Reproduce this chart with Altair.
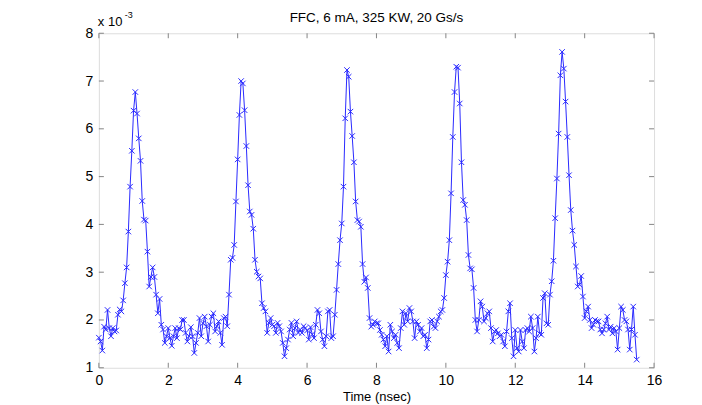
import altair as alt
import pandas as pd

TITLE = "FFC, 6 mA, 325 KW, 20 Gs/s"
X_LABEL = "Time (nsec)"
EXP_BASE = "x 10"
EXP_POWER = "-3"
SAMPLE_NS = 0.05  # 20 Gs/s
X_TICKS = [0, 2, 4, 6, 8, 10, 12, 14, 16]
Y_TICKS = [1, 2, 3, 4, 5, 6, 7, 8]

# signal values (x 10^-3), one per 0.05 ns sample
seg1 = [1.63, 1.55, 1.36, 1.86, 1.80, 2.21, 1.83, 1.66, 1.83, 1.76,
        1.78, 2.11, 2.22, 2.18, 2.41, 2.77, 3.10, 3.85, 4.79, 5.54,
        6.38, 6.77, 6.32, 5.80, 5.33, 4.49, 4.10, 4.08, 3.43, 2.70,
        2.90, 3.10, 2.90, 2.53, 2.14, 2.44, 1.90, 1.80, 1.52, 1.66,
        1.83, 1.62, 1.46, 1.66, 1.83, 1.62, 1.83, 1.80, 2.00, 2.00,
        1.73, 1.55, 1.66, 1.85, 1.66, 1.31, 1.52, 1.73, 2.04, 1.66,
        1.93]
seg2 = [2.07, 1.87, 1.55, 1.90, 2.07, 2.14, 1.76, 1.87, 1.97, 1.73,
        1.48, 2.04, 2.07, 1.87, 2.53, 3.26, 3.30, 3.57, 4.48, 5.36,
        6.29, 7.00, 6.95, 6.39, 5.64, 4.82, 4.27, 4.20, 3.91, 3.26,
        3.01, 2.91, 2.87, 2.35, 2.25, 2.18]
seg3 = [1.73, 1.94, 2.04, 1.90, 1.87, 1.73, 1.94, 1.87, 1.76, 1.52,
        1.24, 1.41, 1.59, 1.80, 1.94, 1.66, 1.83, 1.97, 1.73, 1.80,
        1.73, 1.87, 1.83, 1.78, 1.59, 1.85, 1.70]
seg4 = [1.62, 1.90, 2.21, 2.14, 1.76, 1.59, 1.45, 1.66, 2.18, 2.21,
        1.62, 1.66, 2.11, 2.63, 3.17, 3.67, 4.02, 4.79, 6.22, 7.23,
        7.09, 6.36, 5.85, 5.30, 4.48, 4.09, 4.06, 3.95, 3.17, 2.80,
        2.89, 2.67, 2.04]
seg5 = [1.86, 1.90, 1.97, 1.93, 1.93, 1.79, 1.69, 1.59, 1.45, 1.66,
        1.34, 1.90, 1.76, 1.62, 1.69, 1.52, 1.41, 1.83, 2.18, 1.90,
        2.14, 1.97, 2.25, 2.18, 1.97, 1.62, 1.97, 1.90, 1.76, 1.83,
        1.66, 1.69, 1.41]
seg6 = [1.59, 1.97, 2.00, 1.86, 1.83, 1.97, 2.07, 2.18, 2.21, 2.46,
        2.94, 3.22, 3.67, 4.65, 5.83, 6.77, 7.30, 7.28, 6.53, 5.30,
        4.51, 4.41, 4.09, 3.36, 3.08, 3.06, 2.67, 2.00]
seg7 = [1.76, 2.00, 2.39, 2.28, 1.97, 2.04, 2.14, 2.18, 1.83, 1.55,
        1.76, 1.79, 1.72, 1.66, 1.69, 1.55, 1.45, 1.76, 2.18, 2.35,
        1.62, 1.24, 1.79, 1.41, 1.34, 1.79, 1.55, 1.41, 1.79, 1.83,
        1.76, 2.07, 1.83]
seg8 = [1.34, 1.62, 2.07, 1.72, 1.69, 2.46, 2.56, 1.93, 1.90, 2.53,
        2.81, 3.24, 4.13, 4.96, 5.90, 7.12, 7.61, 7.26, 6.57, 5.83,
        5.03, 4.30, 3.87, 3.57, 3.12, 2.70, 2.74, 2.92, 2.49, 2.04]
seg9 = [2.18, 2.28, 2.00, 1.83, 1.90, 2.00, 1.97, 1.97, 1.80, 1.72,
        1.80, 1.93, 2.07, 1.80, 1.86, 1.72, 1.83, 1.76, 1.38, 1.83,
        2.28, 2.21, 2.00, 1.97, 1.80, 1.38, 1.80, 2.28, 1.69, 1.17]

values = seg1 + seg2 + seg3 + seg4 + seg5 + seg6 + seg7 + seg8 + seg9
times = [round(i * SAMPLE_NS, 3) for i in range(len(values))]
df = pd.DataFrame({"t": times, "v": values})

W, H = 556, 335
BLUE = "#2a2aff"
GRAY = "#858585"
FONT = "Liberation Sans"

xs = alt.Scale(domain=[0, 16], nice=False, zero=False)
ys = alt.Scale(domain=[1, 8], nice=False, zero=False)
X_AXIS = alt.Axis(values=X_TICKS, title=X_LABEL, grid=False, domain=False,
                  ticks=False, tickSize=0, labelPadding=6, labelFontSize=14,
                  labelFont=FONT, labelColor="#000000", titleFont=FONT,
                  titleFontSize=13, titleFontWeight="normal", titleColor="#000000",
                  titlePadding=3, labelFlush=False)
Y_AXIS = alt.Axis(values=Y_TICKS, title="", grid=False, domain=False,
                  ticks=False, tickSize=0, labelPadding=6, labelFontSize=14,
                  labelFont=FONT, labelColor="#000000", labelFlush=False)

X = alt.X("t:Q", scale=xs, axis=X_AXIS)
Y = alt.Y("v:Q", scale=ys, axis=Y_AXIS)

base = alt.Chart(df)
line = base.mark_line(color=BLUE, strokeWidth=1).encode(x=X, y=Y)
pts = base.mark_point(shape="M-1,-1L1,1M-1,1L1,-1", filled=False, size=30,
                      color=BLUE, strokeWidth=1, opacity=1).encode(x=X, y=Y)

xt = alt.Chart(pd.DataFrame({"t": X_TICKS}))
yt = alt.Chart(pd.DataFrame({"v": Y_TICKS}))
bottom_ticks = xt.mark_rule(color=GRAY, strokeWidth=1).encode(
    x=X, y=alt.value(H), y2=alt.value(H - 5))
top_ticks = xt.mark_rule(color=GRAY, strokeWidth=1).encode(
    x=X, y=alt.value(0), y2=alt.value(5))
left_ticks = yt.mark_rule(color=GRAY, strokeWidth=1).encode(
    y=Y, x=alt.value(0), x2=alt.value(5))
right_ticks = yt.mark_rule(color=GRAY, strokeWidth=1).encode(
    y=Y, x=alt.value(W), x2=alt.value(W - 5))

exp_base = alt.Chart(pd.DataFrame({"s": [EXP_BASE]})).mark_text(
    align="left", baseline="alphabetic", font=FONT, fontSize=13, color="#000000"
).encode(text="s:N", x=alt.value(-1), y=alt.value(-7))
exp_pow = alt.Chart(pd.DataFrame({"s": [EXP_POWER]})).mark_text(
    align="left", baseline="alphabetic", font=FONT, fontSize=9, color="#000000"
).encode(text="s:N", x=alt.value(26), y=alt.value(-15))
title_text = alt.Chart(pd.DataFrame({"s": [TITLE]})).mark_text(
    align="center", baseline="alphabetic", font=FONT, fontSize=13.5, color="#000000"
).encode(text="s:N", x=alt.value(W / 2), y=alt.value(-11))

chart = alt.layer(
    bottom_ticks, top_ticks, left_ticks, right_ticks, line, pts,
    exp_base, exp_pow, title_text
).properties(
    width=W, height=H,
    autosize=alt.AutoSizeParams(type="none"),
    padding={"left": 91, "top": 25, "right": 40, "bottom": 37},
).configure_view(stroke=GRAY, strokeWidth=1).configure(background="white")

chart.save("out.html", embed_options={"renderer": "svg", "actions": False})
